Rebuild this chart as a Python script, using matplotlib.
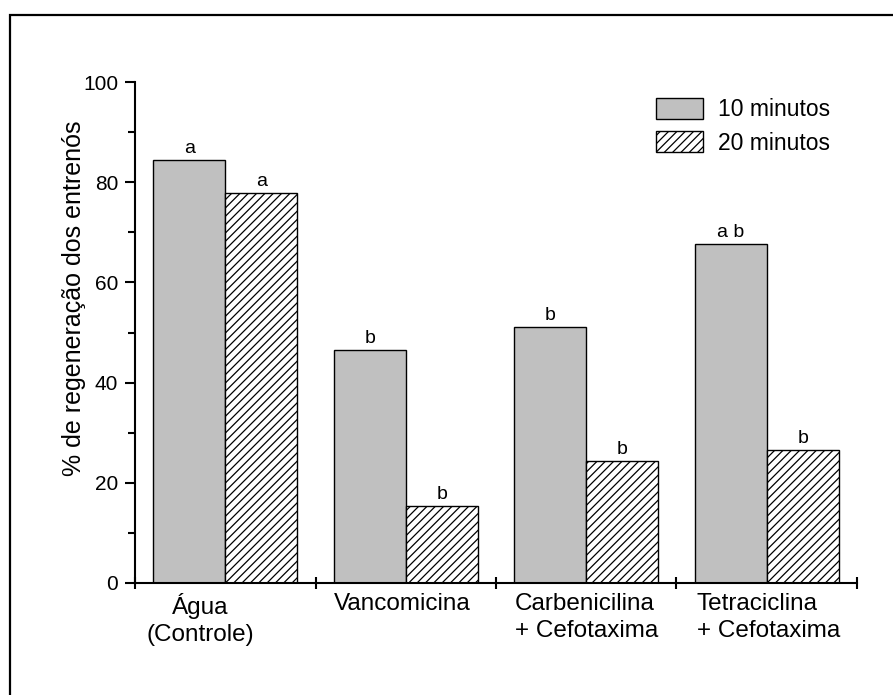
import matplotlib
matplotlib.use("Agg")
import matplotlib.pyplot as plt
import numpy as np
from matplotlib.patches import Rectangle, Patch
from matplotlib.transforms import blended_transform_factory, offset_copy

plt.rcParams['font.family'] = ['Liberation Sans', 'DejaVu Sans']

categories = ["Água\n(Controle)", "Vancomicina", "Carbenicilina\n+ Cefotaxima", "Tetraciclina\n+ Cefotaxima"]
series_names = ["10 minutos", "20 minutos"]
values_10 = [84.4, 46.5, 51.1, 67.7]
values_20 = [77.8, 15.4, 24.4, 26.5]
letters_10 = ["a", "b", "b", "a b"]
letters_20 = ["a", "b", "b", "b"]
yticks = [0, 20, 40, 60, 80, 100]

fig = plt.figure(figsize=(8.93, 6.95), dpi=100)
ax = fig.add_axes([135/893, 112/695, 722/893, 501/695])

# outer frame (only top/left visible)
fig.patches.append(Rectangle((10/893, -0.2), 1.5, (695-15)/695 + 0.2, transform=fig.transFigure,
                             fill=False, edgecolor='black', linewidth=1.6, zorder=0))

n = len(categories)
x = np.arange(n) + 0.5
w = 0.4
plt.rcParams['hatch.linewidth'] = 0.9
bars10 = ax.bar(x - w/2, values_10, width=w, color='#c0c0c0', edgecolor='black', linewidth=1.0, zorder=2)
bars20 = ax.bar(x + w/2, values_20, width=w, color='white', edgecolor='black', hatch='////', linewidth=1.0, zorder=2)

letter_font = dict(fontsize=14, family=['Liberation Sans Narrow', 'Liberation Sans'])
for b, t in zip(bars10, letters_10):
    ax.annotate(t, (b.get_x() + b.get_width()/2, b.get_height()), xytext=(0, 2),
                textcoords='offset points', ha='center', va='bottom', **letter_font)
for b, t in zip(bars20, letters_20):
    ax.annotate(t, (b.get_x() + b.get_width()/2, b.get_height()), xytext=(0, 2),
                textcoords='offset points', ha='center', va='bottom', **letter_font)

ax.set_xlim(0, n)
ax.set_ylim(0, 100)
ax.spines['top'].set_visible(False)
ax.spines['right'].set_visible(False)
for s in ('left', 'bottom'):
    ax.spines[s].set_linewidth(1.5)

ax.set_yticks(yticks)
ax.set_yticklabels([str(v) for v in yticks], fontsize=15)
ax.set_yticks(np.arange(10, 100, 20), minor=True)
ax.tick_params(axis='y', which='major', direction='out', length=7, width=1.5, pad=5)
ax.tick_params(axis='y', which='minor', direction='out', length=5, width=1.5)

ax.set_xticks(np.arange(0, n + 1))
ax.set_xticklabels([])
ax.tick_params(axis='x', which='major', direction='inout', length=8, width=1.5)

# category labels
label_shift = [-0.14, -0.02, 0.0, 0.01]
malign = ['center', 'left', 'left', 'left']
trans = offset_copy(blended_transform_factory(ax.transData, ax.transAxes), fig=fig, x=0, y=-7, units='points')
for xi, lab, dx, ma in zip(x, categories, label_shift, malign):
    ax.text(xi + dx, 0, lab, transform=trans, ha='center', va='top', fontsize=17.5,
            multialignment=ma, linespacing=1.3)

ax.text(-0.085, 0.569, "% de regeneração dos entrenós", transform=ax.transAxes, rotation=90,
        ha='center', va='center', fontsize=18)

handles = [Patch(facecolor='#c0c0c0', edgecolor='black', linewidth=1.0),
           Patch(facecolor='white', edgecolor='black', hatch='////', linewidth=1.0)]
leg = ax.legend(handles, series_names, loc='upper left', bbox_to_anchor=(0.7216, 0.968),
                frameon=False, fontsize=16.5, borderpad=0, borderaxespad=0,
                handlelength=2.05, handleheight=1.0, handletextpad=0.65, labelspacing=0.45)

fig.savefig("out.png", dpi=100)
